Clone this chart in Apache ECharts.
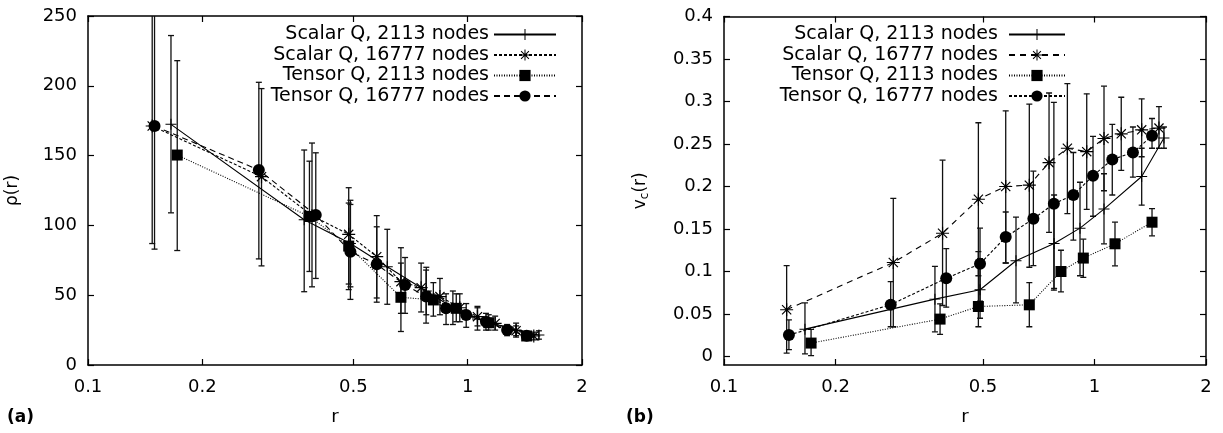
<!DOCTYPE html>
<html><head><meta charset="utf-8">
<script src="https://cdn.jsdelivr.net/npm/echarts@6/dist/echarts.min.js"></script>
<style>html,body{margin:0;padding:0;background:#fff}#c{width:1223px;height:433px}</style>
</head><body><div id="c"></div>
<script>
// ---------- tick labels ----------
const xTicks = [0.1, 0.2, 0.5, 1, 2];
const yTicksA = [0, 50, 100, 150, 200, 250];
const yTicksB = [0, 0.05, 0.1, 0.15, 0.2, 0.25, 0.3, 0.35, 0.4];
const seriesNames = ['Scalar Q, 2113 nodes', 'Scalar Q, 16777 nodes', 'Tensor Q, 2113 nodes', 'Tensor Q, 16777 nodes'];

// ---------- Scalar Q, 2113 nodes ----------
const rS1 = [0.1654, 0.371, 0.491, 0.614, 0.778, 0.914, 1.061, 1.341, 1.54];
const rhoS1 = [172.4, 104, 87, 70.4, 53, 41, 33, 25, 21.5];
const rhoS1Lo = [109, 52.5, 56, 43.5, 36, 29, 25, 20, 18.5];
const rhoS1Hi = [236, 154, 118, 97.2, 70, 53, 41, 30, 24.5];
const vcS1 = [0.0322, 0.0675, 0.0785, 0.1126, 0.133, 0.151, 0.1734, 0.2118, 0.257];
const vcS1Lo = [0.003, 0.029, 0.045, 0.063, 0.08, 0.095, 0.1326, 0.178, 0.245];
const vcS1Hi = [0.063, 0.106, 0.115, 0.164, 0.19, 0.205, 0.215, 0.245, 0.27];

// ---------- Scalar Q, 16777 nodes ----------
const rS2 = [0.1476, 0.2864, 0.389, 0.486, 0.576, 0.667, 0.754, 0.845, 0.953, 1.061, 1.181, 1.341, 1.493];
const rhoS2 = [171.2, 134.9, 107, 93.6, 77.6, 59.7, 55.4, 49, 41, 34.6, 29.8, 24.6, 20.8];
const rhoS2Lo = [87, 71, 56, 58, 48, 37, 38, 36, 31, 28, 25, 21, 18];
const rhoS2Hi = [255, 198, 159, 127, 107, 84, 73, 62, 51, 42, 35, 28, 23.5];
const vcS2 = [0.055, 0.1106, 0.145, 0.185, 0.2, 0.2016, 0.228, 0.245, 0.241, 0.2565, 0.262, 0.2667, 0.2687];
const vcS2Lo = [0.004, 0.035, 0.06, 0.095, 0.11, 0.105, 0.146, 0.168, 0.173, 0.195, 0.219, 0.235, 0.245];
const vcS2Hi = [0.107, 0.186, 0.231, 0.275, 0.289, 0.297, 0.31, 0.321, 0.309, 0.318, 0.305, 0.303, 0.294];

// ---------- Tensor Q, 2113 nodes ----------
const rT1 = [0.1718, 0.383, 0.486, 0.667, 0.812, 0.933, 1.136, 1.43];
const rhoT1 = [150.4, 106.4, 85.2, 48.5, 46.6, 40.6, 30.3, 20.8];
const rhoT1Lo = [82, 67, 54, 24, 35, 31, 25, 18.5];
const rhoT1Hi = [218, 146, 116, 73, 59, 51, 36, 23.5];
const vcT1 = [0.0158, 0.044, 0.0588, 0.0608, 0.1, 0.1158, 0.1326, 0.158];
const vcT1Lo = [0.001, 0.026, 0.035, 0.035, 0.076, 0.093, 0.1067, 0.142];
const vcT1Hi = [0.032, 0.062, 0.1235, 0.087, 0.125, 0.138, 0.158, 0.174];

// ---------- Tensor Q, 16777 nodes ----------
const rT2 = [0.1497, 0.2818, 0.398, 0.491, 0.576, 0.684, 0.777, 0.877, 0.991, 1.117, 1.27, 1.43];
const rhoT2 = [171.2, 139.7, 107.4, 81.2, 72.1, 57.3, 49, 40.6, 35.8, 31, 25.1, 21];
const rhoT2Lo = [83, 76, 62, 47, 45, 37, 30, 29, 27, 25, 21, 18.5];
const rhoT2Hi = [259, 202.5, 152, 115, 99, 77, 68, 51, 44, 37, 29, 23.5];
const vcT2 = [0.0252, 0.061, 0.092, 0.109, 0.1405, 0.162, 0.1796, 0.19, 0.2126, 0.2318, 0.24, 0.2596];
const vcT2Lo = [0.008, 0.035, 0.058, 0.065, 0.11, 0.107, 0.078, 0.137, 0.165, 0.19, 0.211, 0.245];
const vcT2Hi = [0.043, 0.088, 0.127, 0.151, 0.17, 0.218, 0.299, 0.24, 0.259, 0.273, 0.27, 0.28];

// ---------- styling ----------
const FONT = 'DejaVu Sans';
const PLUS = 'path://M-10,-0.9H10V0.9H-10Z M-0.9,-10H0.9V10H-0.9Z';
const STAR = 'path://M-10,-0.9H10V0.9H-10Z M-0.9,-10H0.9V10H-0.9Z M-7.7,-6.4L-6.4,-7.7L7.7,6.4L6.4,7.7Z M6.4,-7.7L7.7,-6.4L-6.4,7.7L-7.7,6.4Z';
const sets = [
  {name: seriesNames[0], r: rS1, a: [rhoS1, rhoS1Lo, rhoS1Hi], b: [vcS1, vcS1Lo, vcS1Hi], symbol: PLUS, size: 11, dashA: 'solid', dashB: 'solid'},
  {name: seriesNames[1], r: rS2, a: [rhoS2, rhoS2Lo, rhoS2Hi], b: [vcS2, vcS2Lo, vcS2Hi], symbol: STAR, size: 13, dashA: [3, 2], dashB: [6, 5]},
  {name: seriesNames[2], r: rT1, a: [rhoT1, rhoT1Lo, rhoT1Hi], b: [vcT1, vcT1Lo, vcT1Hi], symbol: 'rect', size: 11, dashA: [1, 1.5], dashB: [1, 1.5]},
  {name: seriesNames[3], r: rT2, a: [rhoT2, rhoT2Lo, rhoT2Hi], b: [vcT2, vcT2Lo, vcT2Hi], symbol: 'circle', size: 12, dashA: [6, 4], dashB: [3, 2]}
];

function errRender(params, api) {
  const x = api.value(0), lo = api.value(1), hi = api.value(2);
  const p1 = api.coord([x, lo]), p2 = api.coord([x, hi]);
  const cw = 3;
  const style = {stroke: '#111', lineWidth: 1.3, fill: null};
  return {type: 'group', children: [
    {type: 'line', shape: {x1: p1[0], y1: p1[1], x2: p2[0], y2: p2[1]}, style: style},
    {type: 'line', shape: {x1: p1[0] - cw, y1: p1[1], x2: p1[0] + cw, y2: p1[1]}, style: style},
    {type: 'line', shape: {x1: p2[0] - cw, y1: p2[1], x2: p2[0] + cw, y2: p2[1]}, style: style}
  ]};
}

const series = [];
sets.forEach(function (s) {
  [['a', 0], ['b', 1]].forEach(function (pp) {
    const key = pp[0], gi = pp[1];
    const vals = s[key][0], lo = s[key][1], hi = s[key][2];
    const nm = gi === 0 ? s.name : 'b:' + s.name;
    series.push({
      type: 'custom', xAxisIndex: gi * 2, yAxisIndex: gi * 2, clip: true, silent: true,
      renderItem: errRender, encode: {x: 0, y: [1, 2]},
      data: s.r.map(function (r, i) { return [r, lo[i], hi[i]]; }), z: 2
    });
    series.push({
      type: 'line', name: nm, xAxisIndex: gi * 2, yAxisIndex: gi * 2,
      data: s.r.map(function (r, i) { return [r, vals[i]]; }),
      symbol: s.symbol, symbolSize: s.size, showAllSymbol: true, clip: true, silent: true,
      itemStyle: {color: '#000'},
      lineStyle: {color: '#000', width: 1.1, type: gi === 0 ? s.dashA : s.dashB},
      animation: false, z: 3
    });
  });
});

function xAxes(gi) {
  const base = {
    gridIndex: gi, type: 'log', logBase: 10, min: 0.1, max: 2,
    splitLine: {show: false},
    axisLine: {onZero: false, lineStyle: {color: '#000', width: 1.5}},
    axisTick: {inside: true, length: 6, customValues: xTicks, lineStyle: {color: '#000', width: 1.2}},
    minorTick: {show: false}
  };
  return [
    Object.assign({}, base, {
      position: 'bottom', name: 'r', nameLocation: 'middle', nameGap: 43,
      nameTextStyle: {fontFamily: FONT, fontSize: 18, color: '#000'},
      axisLabel: {customValues: xTicks, fontFamily: FONT, fontSize: 18, color: '#000', margin: 13,
        formatter: function (v) { return String(+v.toPrecision(3)); }}
    }),
    Object.assign({}, base, {position: 'top', axisLabel: {show: false}})
  ];
}

function yAxes(gi, min, max, ticks, name, gap) {
  const base = {
    gridIndex: gi, type: 'value', min: min, max: max,
    splitLine: {show: false},
    axisLine: {show: true, onZero: false, lineStyle: {color: '#000', width: 1.5}},
    axisTick: {show: true, inside: true, length: 6, customValues: ticks, lineStyle: {color: '#000', width: 1.2}}
  };
  return [
    Object.assign({}, base, {
      position: 'left', name: name, nameLocation: 'middle', nameGap: gap, nameRotate: 90,
      nameTextStyle: {fontFamily: FONT, fontSize: 17, color: '#000',
        rich: {m: {fontFamily: FONT, fontSize: 17, color: '#000'},
               s: {fontFamily: FONT, fontSize: 12, color: '#000', padding: [8, 0, 0, 0]}}},
      axisLabel: {customValues: ticks, fontFamily: FONT, fontSize: 18, color: '#000', margin: 11,
        formatter: function (v) { return String(+(+v).toPrecision(4)); }}
    }),
    Object.assign({}, base, {position: 'right', axisLabel: {show: false}})
  ];
}

function legendFor(gi, rightEdge, itemWidth, suffix) {
  return {
    data: sets.map(function (s) { return gi === 0 ? s.name : 'b:' + s.name; }),
    orient: 'vertical', align: 'right', right: 1223 - rightEdge, top: 25, padding: 0,
    itemWidth: itemWidth, itemHeight: 14, itemGap: 1.5, selectedMode: false,
    formatter: function (n) { return n.replace(/^b:/, '') + suffix; },
    textStyle: {fontFamily: FONT, fontSize: 19, color: '#000'}
  };
}

const chart = echarts.init(document.getElementById('c'), null, {renderer: 'canvas'});
chart.setOption({
  animation: false,
  backgroundColor: '#fff',
  grid: [
    {left: 88, top: 16, width: 494, height: 349},
    {left: 724, top: 16.5, width: 482, height: 348.5}
  ],
  xAxis: xAxes(0).concat(xAxes(1)),
  yAxis: yAxes(0, 0, 250, yTicksA, '{m|ρ(r)}', 67).concat(yAxes(1, -0.01, 0.4, yTicksB, '{m|v}{s|c}{m|(r)}', 73)),
  legend: [legendFor(0, 557, 62, ''), legendFor(1, 1066, 56, ' ')],
  graphic: [
    {type: 'text', left: 7, top: 409, style: {text: '(a)', fontFamily: FONT, fontWeight: 'bold', fontSize: 17, fill: '#000'}},
    {type: 'text', left: 626, top: 409, style: {text: '(b)', fontFamily: FONT, fontWeight: 'bold', fontSize: 17, fill: '#000'}}
  ],
  series: series
});
</script>
</body></html>
